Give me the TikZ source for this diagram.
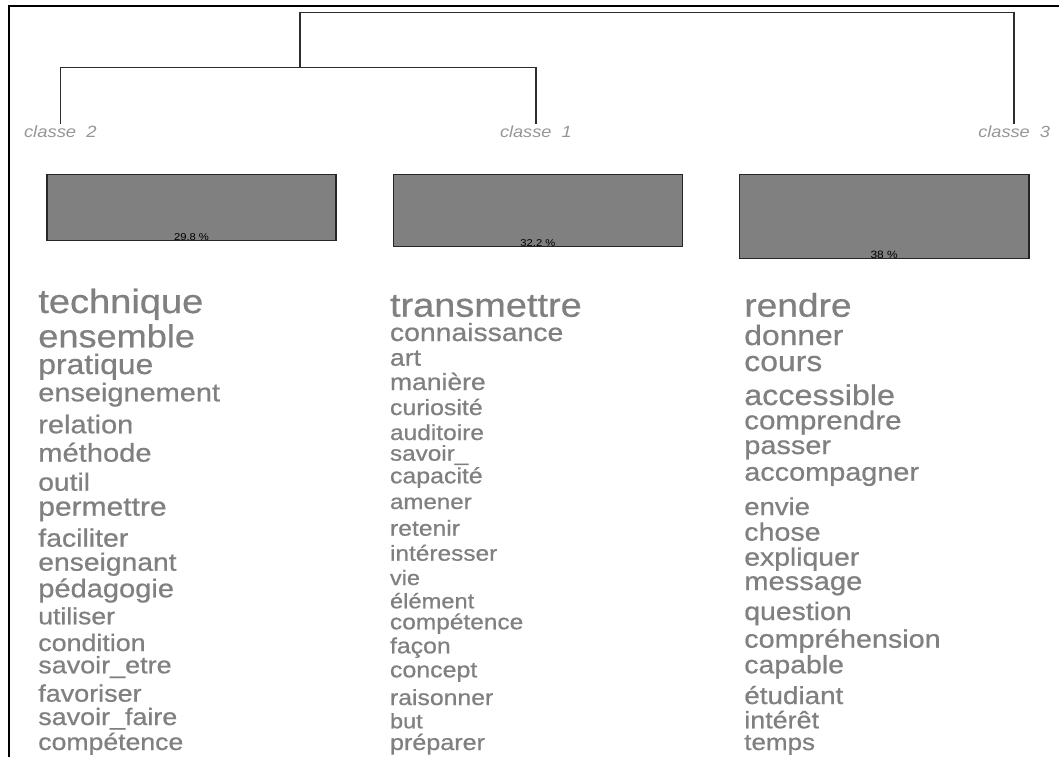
\documentclass[tikz,border=0pt]{standalone}
\usepackage{fontspec}
\setmainfont{Liberation Sans}
\newfontfamily\wordfont{Liberation Sans}[FakeBold=0.6]
\usepackage{graphicx}
\definecolor{wordgray}{RGB}{128,128,128}
\definecolor{labgray}{RGB}{150,150,150}
\definecolor{barfill}{RGB}{128,128,128}
\definecolor{linegray}{RGB}{45,45,45}
\newcommand\sq[2]{\scalebox{1}[0.885]{\resizebox{#1pt}{!}{#2}}}
\newcommand\wrd[5]{\node[word] (#1) at (#2,#3) {\sq{#4}{#5}};}
\begin{document}
\begin{tikzpicture}[x=1pt,y=-1pt,
  word/.style={inner sep=0pt, outer sep=0pt, anchor=base west, text=wordgray, font=\wordfont},
  lab/.style={inner sep=0pt, outer sep=0pt, anchor=base west, text=labgray, font=\itshape},
  bar/.style={draw=black!85, line width=1.3pt, fill=barfill, inner sep=0pt, outer sep=0pt, anchor=north west},
  pct/.style={inner sep=0pt, outer sep=0pt, anchor=base, text=black},
  dendro/.style={draw=linegray, line width=1.4pt}]
\useasboundingbox (0,0) rectangle (1059,757);
\fill[white] (0,0) rectangle (1059,757);
% frame
\draw[line width=2pt] (8.5,757) -- (8.5,5.7) -- (1059,5.7);
% class labels
\node[lab] (c2) at (24,137.7) {\sq{72.7}{classe\ \ 2}};
\node[lab] (c1) at (500,137.7) {\sq{71.7}{classe\ \ 1}};
\node[lab] (c3) at (978.3,137.7) {\sq{71.7}{classe\ \ 3}};
% dendrogram
\coordinate (m21) at (300,67.7);
\coordinate (r) at (300,12.3);
\draw[dendro, shorten <=2pt, shorten >=2pt] (c2.north) |- (m21) -| (c1.north);
\draw[dendro, shorten >=2pt] (m21) -- (r) -| (c3.north);
% bars
\node[bar, minimum width=289pt, minimum height=65.7pt] (b2) at (47,174.5) {};
\node[bar, minimum width=289.3pt, minimum height=72pt] (b1) at (393.3,174.5) {};
\node[bar, minimum width=289.7pt, minimum height=83.8pt] (b3) at (739.3,174.5) {};
\node[pct] (p2) at (b2.south) {\sq{35}{29.8 \%}};
\node[pct] (p1) at (b1.south) {\sq{35}{32.2 \%}};
\node[pct] (p3) at (b3.south) {\sq{27.3}{38 \%}};
% column classe 2
\wrd{a1}{38.3}{313}{165}{technique}
\wrd{a2}{38.3}{347.3}{156.7}{ensemble}
\wrd{a3}{38.3}{374}{115}{pratique}
\wrd{a4}{38.3}{401.3}{181.7}{enseignement}
\wrd{a5}{38.3}{433.3}{95}{relation}
\wrd{a6}{38.3}{461.7}{113.3}{méthode}
\wrd{a7}{38.3}{490.7}{51.7}{outil}
\wrd{a8}{38.3}{515.7}{128.3}{permettre}
\wrd{a9}{38.3}{546.7}{90}{faciliter}
\wrd{a10}{38.3}{570.7}{138.3}{enseignant}
\wrd{a11}{38.3}{597.3}{135.7}{pédagogie}
\wrd{a12}{38.3}{624.3}{76.7}{utiliser}
\wrd{a13}{38.3}{651}{107.3}{condition}
\wrd{a14}{38.3}{673.3}{133.3}{savoir\_etre}
\wrd{a15}{38.3}{701.7}{103.3}{favoriser}
\wrd{a16}{38.3}{725}{139}{savoir\_faire}
\wrd{a17}{38.3}{750}{145}{compétence}
% column classe 1
\wrd{b1w}{390}{316.7}{191.7}{transmettre}
\wrd{b2w}{390}{341}{173.3}{connaissance}
\wrd{b3w}{390}{365.7}{31}{art}
\wrd{b4w}{390}{390}{95.7}{manière}
\wrd{b5w}{390}{415}{92.7}{curiosité}
\wrd{b6w}{390}{440}{94}{auditoire}
\wrd{b7w}{390}{460.7}{78.3}{savoir\_}
\wrd{b8w}{390}{483.3}{92.7}{capacité}
\wrd{b9w}{390}{509}{81.7}{amener}
\wrd{b10w}{390}{535.7}{70}{retenir}
\wrd{b11w}{390}{560.7}{107.3}{intéresser}
\wrd{b12w}{390}{585}{30}{vie}
\wrd{b13w}{390}{608.3}{84.3}{élément}
\wrd{b14w}{390}{629.3}{133.3}{compétence}
\wrd{b15w}{390}{653.3}{60.7}{façon}
\wrd{b16w}{390}{677.3}{87.3}{concept}
\wrd{b17w}{390}{705}{103.3}{raisonner}
\wrd{b18w}{390}{728.3}{32.7}{but}
\wrd{b19w}{390}{750}{95}{préparer}
% column classe 3
\wrd{d1}{744.3}{316.7}{107.3}{rendre}
\wrd{d2}{744.3}{345}{99}{donner}
\wrd{d3}{744.3}{371}{78}{cours}
\wrd{d4}{744.3}{405}{150.7}{accessible}
\wrd{d5}{744.3}{429.3}{157.3}{comprendre}
\wrd{d6}{744.3}{454}{86.7}{passer}
\wrd{d7}{744.3}{480.7}{174.7}{accompagner}
\wrd{d8}{744.3}{515}{65.7}{envie}
\wrd{d9}{744.3}{540.7}{76.3}{chose}
\wrd{d10}{744.3}{565.7}{115}{expliquer}
\wrd{d11}{744.3}{590}{118}{message}
\wrd{d12}{744.3}{620}{107.3}{question}
\wrd{d13}{744.3}{647.7}{196.3}{compréhension}
\wrd{d14}{744.3}{673.3}{99.7}{capable}
\wrd{d15}{744.3}{704}{99}{étudiant}
\wrd{d16}{744.3}{728.3}{74.7}{intérêt}
\wrd{d17}{744.3}{750}{70.7}{temps}
\end{tikzpicture}
\end{document}
